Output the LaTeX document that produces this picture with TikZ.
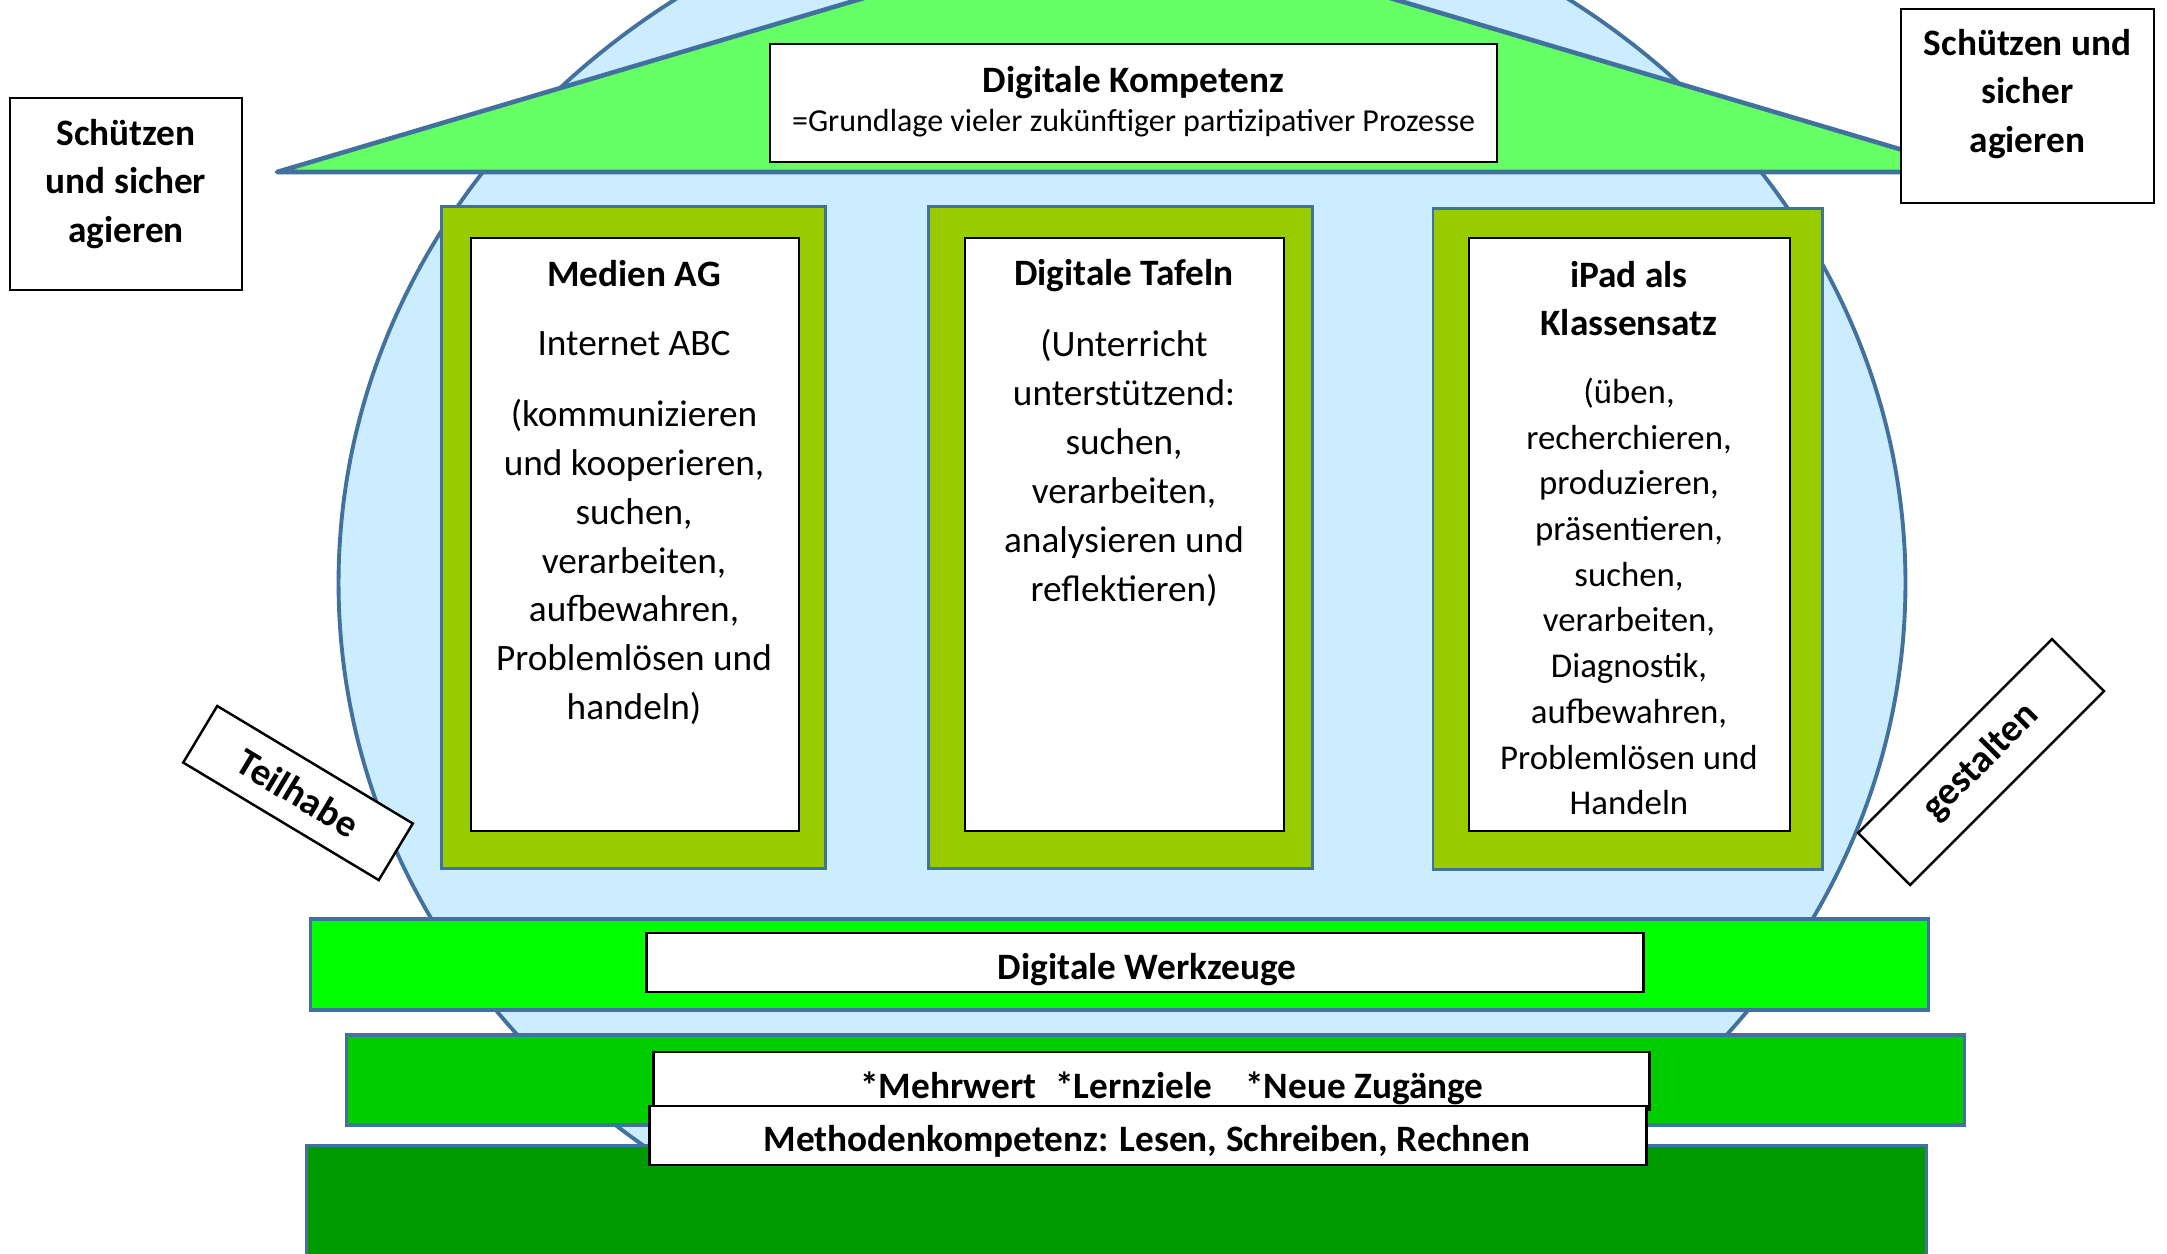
\documentclass[tikz,border=0pt]{standalone}
\usepackage{fontspec}
\setmainfont{Carlito}
\usetikzlibrary{shapes.geometric}
\definecolor{edgeblue}{HTML}{41719C}
\definecolor{skyfill}{HTML}{CCECFF}
\definecolor{roofgreen}{HTML}{66FF66}
\definecolor{pillargreen}{HTML}{99CC00}
\definecolor{barone}{HTML}{00FF00}
\definecolor{bartwo}{HTML}{00CC00}
\definecolor{barthree}{HTML}{009900}
\begin{document}
\begin{tikzpicture}[x=0.01cm,y=-0.01cm,
  blueline/.style={draw=edgeblue, line width=1.1pt},
  whitebox/.style={draw=black, fill=white, line width=0.7pt, inner sep=0pt},
  pillar/.style={draw=edgeblue, line width=0.8pt, fill=pillargreen, inner sep=0pt},
  bar/.style={draw=edgeblue, line width=0.9pt, inner sep=0pt},
  ttl/.style={font=\fontsize{10.6}{13.9}\selectfont\bfseries, align=center, inner sep=0pt},
  body/.style={font=\fontsize{10.6}{13.9}\selectfont, align=center, inner sep=0pt},
]
\clip (0,0) rectangle (2167,1253);
\useasboundingbox (0,0) rectangle (2167,1253);
\fill[white] (0,0) rectangle (2167,1253);

% sky ellipse
\node[ellipse, blueline, fill=skyfill, minimum width=15.66cm, minimum height=14.2cm, inner sep=0pt] (sky) at (1122,583) {};

% roof
\draw[blueline, fill=roofgreen, line join=round, line width=1.3pt] (277,172) -- (1127,-80) -- (1977,172) -- cycle;

% Digitale Kompetenz
\node[whitebox, minimum width=7.27cm, minimum height=1.18cm] (kompbox) at (1133.5,103) {};
\node[ttl] (komptitle) at (1133.5,83) {Digitale Kompetenz};
\node[font=\fontsize{9.1}{11}\selectfont, inner sep=0pt] (kompsub) at (1133.5,123) {=Grundlage vieler zukünftiger partizipativer Prozesse};

% Schuetzen boxes
\node[whitebox, minimum width=2.32cm, minimum height=1.92cm] (protectL) at (126,194) {};
\node[ttl] (protectLtext) at (126,184) {Schützen\\und sicher\\agieren};
\node[whitebox, minimum width=2.53cm, minimum height=1.94cm] (protectR) at (2027.5,106) {};
\node[ttl] (protectRtext) at (2027.5,94) {Schützen und\\sicher\\agieren};

% Pillar 1
\node[pillar, minimum width=3.83cm, minimum height=6.61cm] (medienouter) at (633.5,537.5) {};
\node[whitebox, minimum width=3.28cm, minimum height=5.93cm] (medieninner) at (635,534.5) {};
\node[ttl] (medientitle) at (634,274) {Medien AG};
\node[body] (medienabc) at (634,344) {Internet ABC};
\node[body] (medienbody) at (634,562) {(kommunizieren\\und kooperieren,\\suchen,\\verarbeiten,\\aufbewahren,\\Problemlösen und\\handeln)};

% Pillar 2
\node[pillar, minimum width=3.83cm, minimum height=6.61cm] (tafelouter) at (1120.5,537.5) {};
\node[whitebox, minimum width=3.19cm, minimum height=5.93cm] (tafelinner) at (1124.5,534.5) {};
\node[ttl] (tafeltitle) at (1124,276) {Digitale Tafeln};
\node[body] (tafelbody) at (1124,468) {(Unterricht\\unterstützend:\\suchen,\\verarbeiten,\\analysieren und\\reflektieren)};

% Pillar 3
\node[pillar, minimum width=3.89cm, minimum height=6.60cm] (ipadouter) at (1627.5,539) {};
\node[whitebox, minimum width=3.21cm, minimum height=5.93cm] (ipadinner) at (1629.5,534.5) {};
\node[ttl] (ipadtitle) at (1629,298.5) {iPad als\\Klassensatz};
\node[font=\fontsize{9.9}{13}\selectfont, align=center, inner sep=0pt] (ipadbody) at (1629,596.5) {(üben,\\recherchieren,\\produzieren,\\präsentieren,\\suchen,\\verarbeiten,\\Diagnostik,\\aufbewahren,\\Problemlösen und\\Handeln};

% bars
\node[bar, fill=barone, minimum width=16.17cm, minimum height=0.91cm] (werkbar) at (1119.5,964.5) {};
\node[whitebox, minimum width=9.96cm, minimum height=0.59cm] (werkbox) at (1145,962.5) {};
\node[ttl] (werktext) at (1147,970) {Digitale Werkzeuge};

\node[bar, fill=bartwo, minimum width=16.17cm, minimum height=0.90cm] (mehrbar) at (1155.5,1080) {};
\node[bar, fill=barthree, minimum width=16.19cm, minimum height=1.4cm, anchor=north west] (basebar) at (305,1144) {};
\node[whitebox, minimum width=9.95cm, minimum height=0.58cm] (mehrbox) at (1151.5,1081) {};
\node[ttl] (mehrtext) at (1172,1088) {*Mehrwert\hspace{3pt} *Lernziele\hspace{7pt} *Neue Zugänge};
\node[whitebox, minimum width=9.96cm, minimum height=0.59cm] (methbox) at (1148,1135.5) {};
\node[ttl] (methtext) at (1147,1141) {Methodenkompetenz: Lesen, Schreiben, Rechnen};

% rotated labels
\node[whitebox, rotate=-31, minimum width=2.28cm, minimum height=0.66cm, font=\fontsize{11}{13}\selectfont\bfseries] (teilhabe) at (298,793) {Teilhabe};
\node[whitebox, rotate=45, minimum width=2.74cm, minimum height=0.735cm, font=\fontsize{11}{13}\selectfont\bfseries] (gestalten) at (1981,762) {gestalten};
\end{tikzpicture}
\end{document}
